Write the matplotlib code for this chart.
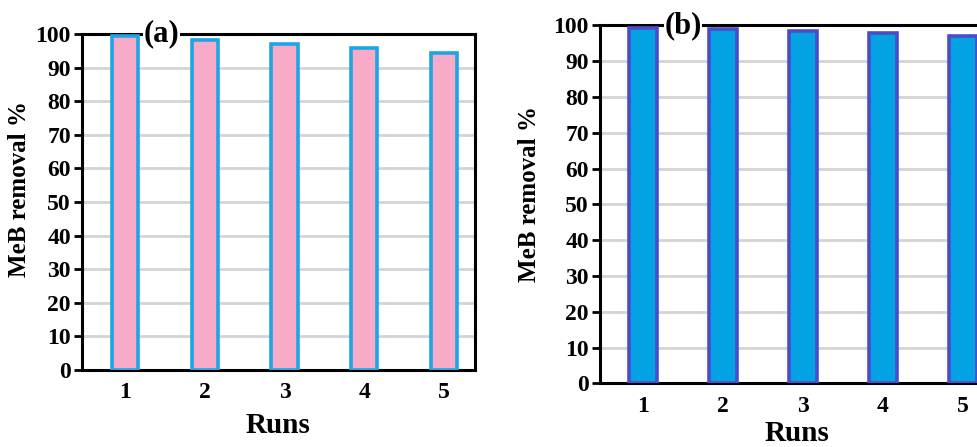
import numpy as np
import matplotlib
matplotlib.use('Agg')
import matplotlib.pyplot as plt

# run number and removal efficiency (%)
runs = [1, 2, 3, 4, 5]
removal_a = [99.5, 98.1, 97.1, 95.8, 94.4]
removal_b = [99.3, 98.9, 98.5, 97.8, 97.0]
yticks = np.arange(0, 101, 10)

plt.rcParams['font.family'] = ['Liberation Serif', 'DejaVu Serif']
plt.rcParams['font.weight'] = 'bold'

fig = plt.figure(figsize=(9.77, 4.47), dpi=100)
ax1 = fig.add_axes([0.0839, 0.1723, 0.4023, 0.7517])
ax2 = fig.add_axes([0.6141, 0.1425, 0.4033, 0.8009])


def style_panel(ax, vals, face, edge, width, tag, tag_x, ylab_xy, xlab_pad):
    ax.set_axisbelow(True)
    ax.yaxis.grid(True, color='#d4d4d4', linewidth=2)
    ax.bar(runs, vals, width=width, color=face, edgecolor=edge, linewidth=2.6, zorder=3)
    ax.set_xlim(0.46, 5.39)
    ax.set_ylim(0, 100)
    ax.set_yticks(yticks)
    ax.set_xticks(runs)
    for s in ax.spines.values():
        s.set_linewidth(2.2)
        s.set_color('black')
    ax.tick_params(axis='y', direction='out', length=6, width=2, labelsize=17, pad=2)
    ax.tick_params(axis='x', length=0, labelsize=17, pad=9)
    ax.set_xlabel('Runs', fontsize=21, fontweight='bold', labelpad=xlab_pad)
    ax.set_ylabel('MeB removal %', fontsize=18, fontweight='bold')
    ax.yaxis.set_label_coords(*ylab_xy)
    ax.text(tag_x, 100, tag, ha='center', va='center', fontsize=22, fontweight='bold',
            bbox=dict(facecolor='white', edgecolor='none', pad=0.5), zorder=5, clip_on=False)


style_panel(ax1, removal_a, '#f8abc8', '#1fa5e3', 0.33, '(a)', 1.46, (-0.13, 0.54), 6)
style_panel(ax2, removal_b, '#03a2e3', '#4c4cc9', 0.35, '(b)', 1.5, (-0.15, 0.53), 2)
ax2.spines['right'].set_visible(False)

fig.savefig('out.png', dpi=100)
